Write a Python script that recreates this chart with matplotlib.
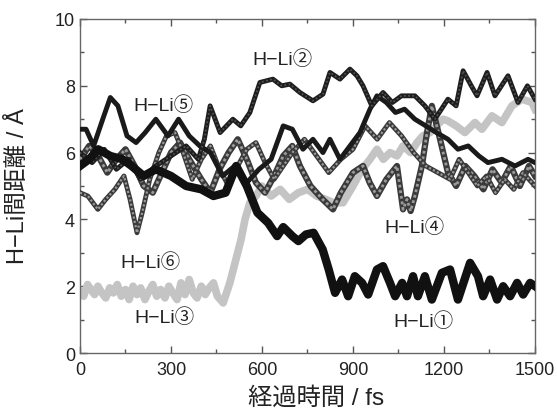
import matplotlib
matplotlib.use("Agg")
import matplotlib.pyplot as plt
from matplotlib.ticker import MultipleLocator

plt.rcParams['font.family'] = ['Liberation Sans', 'Noto Sans CJK JP', 'DejaVu Sans']

# H-Li(1): thick black, drops to ~2 A after 800 fs
t1 = [0, 30, 60, 100, 140, 170, 210, 250, 300, 350, 400, 440, 480, 515, 550, 585, 620,
      650, 670, 700, 720, 745, 770, 800, 820, 841, 864, 884, 906, 930, 950, 979, 999,
      1022, 1039, 1062, 1078, 1098, 1114, 1137, 1160, 1193, 1220, 1246, 1286, 1312,
      1329, 1352, 1375, 1395, 1418, 1441, 1461, 1484, 1500]
d1 = [5.6, 5.8, 6.1, 5.9, 5.8, 5.6, 5.3, 5.5, 5.3, 5.0, 4.9, 4.7, 4.8, 5.6, 5.0, 4.2, 3.9,
      3.5, 3.77, 3.5, 3.35, 3.55, 3.6, 3.1, 2.5, 1.8, 2.2, 1.7, 2.3, 2.1, 1.75, 2.5, 2.6,
      2.1, 1.7, 2.1, 1.7, 2.3, 1.7, 2.3, 1.6, 2.4, 2.5, 1.6, 2.7, 2.3,
      1.7, 2.2, 1.6, 2.0, 1.7, 2.1, 1.75, 2.1, 2.0]

# H-Li(2)
t2 = [0, 40, 80, 120, 160, 200, 250, 300, 350, 390, 410, 429, 462, 504, 530, 560, 593,
      636, 665, 692, 725, 768, 801, 824, 857, 890, 913, 933, 962, 999, 1030, 1060, 1104,
      1137, 1170, 1213, 1240, 1263, 1290, 1309, 1342, 1368, 1411, 1444, 1475, 1500]
d2 = [6.0, 5.7, 6.1, 5.5, 5.8, 5.2, 5.6, 5.9, 6.2, 5.8, 6.4, 7.4, 6.6, 7.0, 6.8, 7.2, 8.1,
      8.2, 8.0, 8.05, 7.8, 7.55, 7.75, 8.4, 8.2, 8.5, 8.3, 8.0, 7.4, 7.8, 7.5, 7.7, 7.7,
      7.4, 7.0, 7.6, 7.4, 8.45, 8.0, 7.7, 8.4, 7.7, 8.3, 7.5, 8.0, 7.6]

# H-Li(3): light grey, ~1.8 A until ~480 fs
t3 = [0, 12, 25, 36, 48, 59, 72, 85, 98, 110, 123, 136, 150, 162, 175, 188, 200, 214,
      227, 240, 253, 266, 280, 293, 306, 320, 333, 346, 360, 373, 386, 400, 413, 426,
      440, 453, 472, 494, 514, 531, 544, 560, 580, 600, 630, 660, 690, 720, 750, 780,
      810, 835, 867, 900, 930, 956, 979, 1000, 1022, 1045, 1065, 1090, 1111, 1130, 1154,
      1175, 1197, 1213, 1240, 1269, 1302, 1325, 1358, 1391, 1424, 1457, 1490, 1500]
d3 = [1.85, 1.7, 2.05, 1.9, 1.75, 2.0, 1.8, 1.65, 1.95, 1.8, 2.05, 1.7, 1.9, 1.6, 2.0,
      1.75, 1.95, 1.6, 1.85, 2.05, 1.7, 1.9, 1.65, 2.0, 1.8, 1.6, 2.1, 1.75, 2.2, 1.8,
      1.65, 2.0, 1.75, 1.95, 2.1, 1.7, 1.5, 2.1, 2.8, 3.4, 4.0, 4.5, 4.7, 5.0, 4.7, 4.9,
      4.6, 4.8, 4.9, 4.7, 4.6, 4.5, 4.5, 5.0, 5.5, 5.8, 6.1, 5.8, 6.0, 5.9, 6.2, 6.0,
      6.3, 6.5, 6.6, 6.8, 7.0, 6.95, 6.8, 6.6, 6.9, 6.7, 7.1, 6.9, 7.4, 7.6, 7.5, 7.3]

# H-Li(4): textured grey
t4 = [0, 30, 60, 90, 120, 150, 180, 210, 240, 270, 300, 330, 360, 400, 430, 460, 490,
      520, 550, 580, 610, 640, 670, 700, 725, 760, 800, 834, 860, 900, 933, 955, 979,
      1010, 1045, 1065, 1078, 1090, 1104, 1127, 1144, 1160, 1187, 1213, 1240, 1270,
      1300, 1330, 1360, 1390, 1420, 1450, 1480, 1500]
d4 = [5.8, 6.2, 5.9, 5.4, 5.8, 6.1, 5.6, 5.0, 4.8, 5.4, 6.0, 6.3, 5.8, 5.2, 4.8, 5.5, 6.0,
      6.4, 5.8, 5.1, 4.8, 5.3, 5.9, 6.2, 5.6, 5.0, 4.6, 4.3, 4.8, 5.4, 5.6, 5.1, 4.7,
      5.2, 5.6, 4.3, 4.6, 4.25, 4.7, 5.6, 6.6, 7.4, 6.4, 5.4, 5.0, 5.6,
      5.3, 4.9, 5.5, 5.1, 5.6, 5.0, 5.6, 5.3]

# H-Li(5): black, peak 7.7 A near 100 fs
t5 = [0, 20, 45, 75, 100, 125, 155, 185, 215, 250, 290, 325, 360, 395, 430, 470, 510,
      550, 590, 630, 670, 700, 735, 768, 801, 824, 857, 890, 923, 956, 979, 1010, 1040,
      1070, 1104, 1140, 1175, 1213, 1246, 1280, 1315, 1345, 1391, 1434, 1477, 1500]
d5 = [6.7, 6.7, 6.2, 7.0, 7.65, 7.4, 6.5, 6.3, 6.6, 7.0, 6.5, 7.0, 6.5, 6.2, 6.0, 5.3,
      5.6, 5.1, 5.5, 5.8, 6.8, 6.7, 6.1, 6.4, 6.0, 6.4, 5.8, 6.2, 6.6, 7.3, 7.7, 7.5, 7.2,
      7.3, 7.0, 6.8, 6.6, 6.4, 6.1, 6.2, 5.9, 5.7, 5.8, 5.6, 5.8, 5.7]

# H-Li(6): textured, dips to 3.6 A near 190 fs
t6 = [0, 26, 59, 85, 115, 145, 165, 188, 205, 230, 260, 285, 313, 340, 370, 400, 430,
      460, 490, 520, 550, 580, 610, 640, 670, 700, 740, 780, 820, 860, 900, 940, 980,
      1020, 1060, 1100, 1140, 1180, 1220, 1250, 1280, 1310, 1340, 1370, 1400, 1430,
      1460, 1500]
d6 = [4.8, 4.7, 4.3, 4.6, 4.9, 5.3, 4.6, 3.6, 4.2, 5.2, 6.0, 6.5, 6.6, 6.0, 5.2, 5.8,
      6.2, 5.5, 5.0, 5.6, 6.1, 6.3, 5.7, 5.2, 5.6, 6.0, 6.4, 5.9, 5.4, 5.8, 6.1, 6.8,
      6.4, 6.9, 6.5, 6.0, 5.6, 5.4, 5.2, 5.8, 5.4, 5.0, 5.3, 4.8, 5.2, 4.9, 5.4, 5.0]

labels = ['H\u2212Li①', 'H\u2212Li②', 'H\u2212Li③', 'H\u2212Li④', 'H\u2212Li⑤', 'H\u2212Li⑥']
label_pos = [(1131, 0.96), (669, 8.8), (280, 1.08), (1104, 3.77), (274, 7.45), (231, 2.75)]

fig = plt.figure(figsize=(5.57, 4.14), dpi=100)
ax = fig.add_axes([0.1436, 0.1449, 0.8169, 0.8068])

ax.plot(t3, d3, color='#c4c4c4', lw=5.5, solid_joinstyle='round', zorder=2)
# textured lines: dark edge + grey core
for t, d, w in [(t4, d4, 4.5), (t6, d6, 3.5)]:
    ax.plot(t, d, color='#3a3a3a', lw=w, solid_joinstyle='round', zorder=3)
    ax.plot(t, d, color='#9a9a9a', lw=w * 0.45, ls=(0, (1, 1)), zorder=3)
ax.plot(t5, d5, color='#1a1a1a', lw=3.5, solid_joinstyle='round', zorder=4)
ax.plot(t2, d2, color='#1e1e1e', lw=3.5, solid_joinstyle='round', zorder=4)
ax.plot(t2, d2, color='#555555', lw=1.2, ls=(0, (1, 1.5)), zorder=4)
ax.plot(t1, d1, color='#111111', lw=6, solid_joinstyle='round', zorder=5)

for lab, (x, y) in zip(labels, label_pos):
    ax.text(x, y, lab, fontsize=14, ha='center', va='center', color='#222222')

ax.set_xlim(0, 1500)
ax.set_ylim(0, 10)
ax.xaxis.set_major_locator(MultipleLocator(300))
ax.xaxis.set_minor_locator(MultipleLocator(150))
ax.yaxis.set_major_locator(MultipleLocator(2))
ax.yaxis.set_minor_locator(MultipleLocator(1))
ax.tick_params(which='both', direction='in', top=True, right=True, color='#555555',
               labelsize=13, labelcolor='#222222', width=1)
ax.tick_params(which='major', length=5)
ax.tick_params(which='minor', length=3)
ax.tick_params(axis='x', pad=6)
for sp in ax.spines.values():
    sp.set_color('#666666')
    sp.set_linewidth(1)

ax.set_xlabel('経過時間 / fs', fontsize=17.5, color='#222222')
ax.set_ylabel('H\u2212Li間距離 / Å', fontsize=17, color='#222222')
ax.xaxis.set_label_coords(0.519, -0.098)
ax.yaxis.set_label_coords(-0.112, 0.503)

fig.savefig('out.png', dpi=100)
